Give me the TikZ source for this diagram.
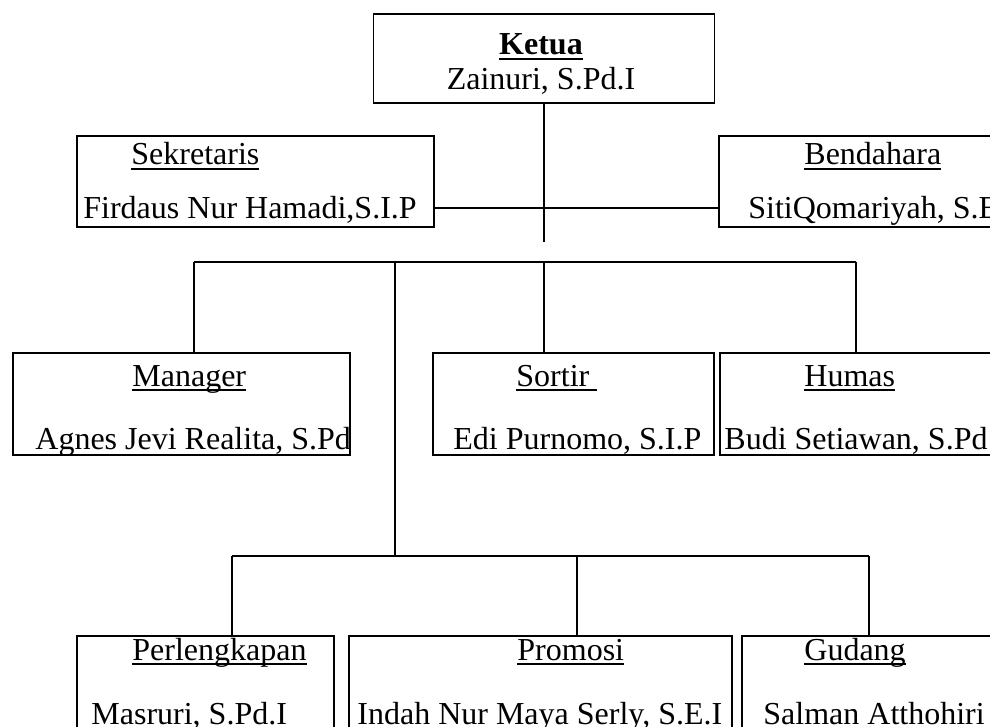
\documentclass[tikz,border=0pt]{standalone}
\usepackage{fontspec}
\setmainfont{Liberation Serif}
\usepackage{tikz}
\newcommand{\garisbawah}[1]{\setbox0\hbox{#1}\rlap{\rule[-2.3pt]{\wd0}{0.75pt}}\box0}

\begin{document}
\begin{tikzpicture}[x=0.5pt, y=-0.5pt]
		% gaya
		\tikzstyle{every node}=[inner sep=0pt, font=\fontsize{16pt}{19pt}\selectfont]
		\tikzstyle{kotak} = [draw, rectangle, line width=0.7pt]
		\tikzstyle{judul} = [anchor=base west]
		\tikzstyle{nama} = [anchor=base west]
		\tikzstyle{garis} = [line width=0.7pt]
		\clip (0,0) rectangle (990,727);
		% kotak
		\node [kotak, minimum width=170.5pt, minimum height=44.5pt] (ketua) at (544,58.5) {};
		\node [kotak, minimum width=178.5pt, minimum height=45.5pt] (sekretaris) at (255.5,181.5) {};
		\node [kotak, minimum width=145.5pt, minimum height=45.5pt] (bendahara) at (864.5,181.5) {};
		\node [kotak, minimum width=168.5pt, minimum height=51pt] (manager) at (181.5,404) {};
		\node [kotak, minimum width=140.5pt, minimum height=51pt] (sortir) at (573.5,404) {};
		\node [kotak, minimum width=145pt, minimum height=51pt] (humas) at (865,404) {};
		\node [kotak, minimum width=128.5pt, minimum height=62pt] (perlengkapan) at (205.5,698) {};
		\node [kotak, minimum width=191.5pt, minimum height=62pt] (promosi) at (540.5,698) {};
		\node [kotak, minimum width=134pt, minimum height=62pt] (gudang) at (876,698) {};
		% teks
		\node [anchor=base] (tKetua) at (541,55) {\garisbawah{\textbf{Ketua}}};
		\node [anchor=base] (nKetua) at (541,90) {Zainuri, S.Pd.I};
		\node [judul] (tSekretaris) at (131,165) {\garisbawah{Sekretaris}};
		\node [nama] (nSekretaris) at (83,219) {Firdaus Nur Hamadi,S.I.P};
		\node [judul] (tBendahara) at (804,165) {\garisbawah{Bendahara}};
		\node [nama] (nBendahara) at (748,219) {SitiQomariyah, S.E};
		\node [judul] (tManager) at (132,386) {\garisbawah{Manager}};
		\node [nama] (nManager) at (35,449) {Agnes Jevi Realita, S.Pd};
		\node [judul] (tSortir) at (516,386) {\garisbawah{Sortir\ }};
		\node [nama] (nSortir) at (453,449) {Edi Purnomo, S.I.P};
		\node [judul] (tHumas) at (804,386) {\garisbawah{Humas}};
		\node [nama] (nHumas) at (724,449) {Budi Setiawan, S.Pd};
		\node [judul] (tPerlengkapan) at (132,660) {\garisbawah{Perlengkapan}};
		\node [nama] (nPerlengkapan) at (91,724) {Masruri, S.Pd.I};
		\node [judul] (tPromosi) at (517,660) {\garisbawah{Promosi}};
		\node [nama] (nPromosi) at (357,724) {Indah Nur Maya Serly, S.E.I};
		\node [judul] (tGudang) at (804,660) {\garisbawah{Gudang}};
		\node [nama] (nGudang) at (763,724) {Salman Atthohiri};
		% titik cabang
		\coordinate (ujung) at (544,242);
		\coordinate (pusat) at (544,208);
		\coordinate (kiri1) at (194,262);
		\coordinate (tengah1) at (395,262);
		\coordinate (cabang1) at (544,262);
		\coordinate (kanan1) at (856,262);
		\coordinate (kiri2) at (232,556);
		\coordinate (tengah2) at (395,556);
		\coordinate (cabang2) at (577,556);
		\coordinate (kanan2) at (869,556);
		% garis
		\draw [garis] (ketua.south) -- (ujung);
		\draw [garis] (sekretaris.east |- pusat) -- (bendahara.west |- pusat);
		\draw [garis] (kiri1) -- (kanan1);
		\draw [garis] (kiri1) -- (kiri1 |- manager.north);
		\draw [garis] (cabang1) -- (cabang1 |- sortir.north);
		\draw [garis] (kanan1) -- (kanan1 |- humas.north);
		\draw [garis] (tengah1) -- (tengah2);
		\draw [garis] (kiri2) -- (kanan2);
		\draw [garis] (kiri2) -- (kiri2 |- perlengkapan.north);
		\draw [garis] (cabang2) -- (cabang2 |- promosi.north);
		\draw [garis] (kanan2) -- (kanan2 |- gudang.north);
	\end{tikzpicture}
\end{document}
